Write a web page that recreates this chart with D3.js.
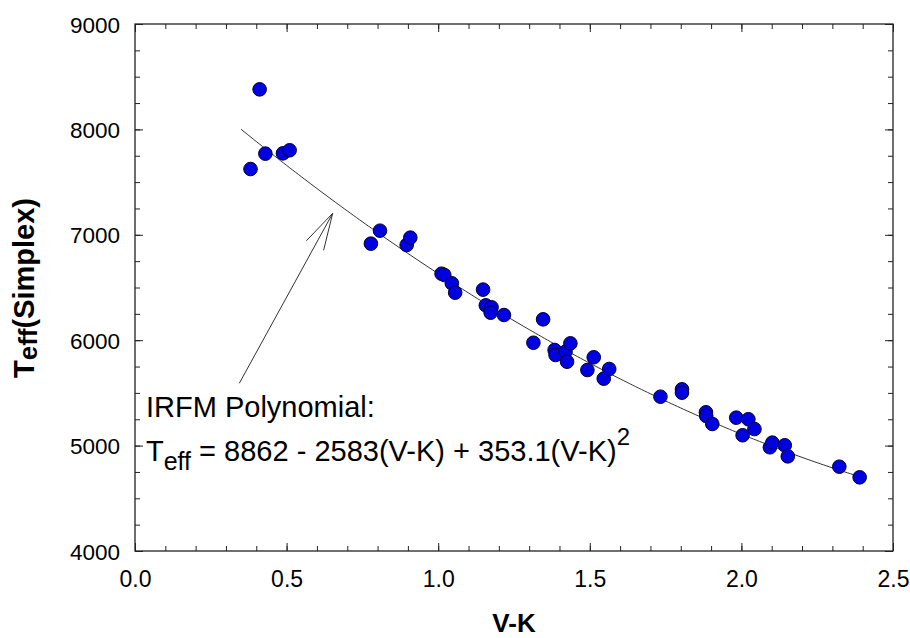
<!DOCTYPE html>
<html>
<head>
<meta charset="utf-8">
<script src="https://cdn.jsdelivr.net/npm/d3@7/dist/d3.min.js"></script>
<style>
  html, body { margin: 0; padding: 0; background: #fff; }
  svg { display: block; }
  text { font-family: Arial, "Liberation Sans", sans-serif; }
</style>
</head>
<body>
<svg id="chart" width="910" height="638"></svg>
<script>
// ---- data ----
const vk = [0.381, 0.411, 0.430, 0.488, 0.510, 0.778, 0.808, 0.896, 0.908, 1.011,
            1.020, 1.045, 1.056, 1.148, 1.157, 1.176, 1.173, 1.217, 1.314, 1.346,
            1.384, 1.387, 1.420, 1.425, 1.436, 1.492, 1.513, 1.546, 1.564, 1.733,
            1.804, 1.804, 1.883, 1.884, 1.904, 1.983, 2.004, 2.023, 2.043, 2.094,
            2.102, 2.143, 2.153, 2.323, 2.390];
const teff = [7624, 8380, 7770, 7773, 7802, 6916, 7039, 6903, 6973, 6631,
              6619, 6540, 6451, 6480, 6331, 6312, 6261, 6239, 5976, 6198,
              5907, 5860, 5891, 5796, 5970, 5717, 5838, 5635, 5727, 5464,
              5534, 5502, 5316, 5281, 5205, 5265, 5098, 5250, 5157, 4984,
              5028, 5003, 4898, 4800, 4699];
const fitCoeffs = [8862, -2583, 353.1];     // IRFM polynomial shown on chart
const fitRange = [0.35, 2.40];
const xTicks = [0.0, 0.5, 1.0, 1.5, 2.0, 2.5];
const yTicks = [4000, 5000, 6000, 7000, 8000, 9000];
const arrowFrom = [0.344, 5591];
const arrowTo = [0.652, 7204];

// ---- layout ----
const L = 135, R = 893, T = 24, B = 551;
const svg = d3.select("#chart");
const x = d3.scaleLinear().domain([0, 2.5]).range([L, R]);
const y = d3.scaleLinear().domain([4000, 9000]).range([B, T]);
const axisColor = "#222";

// minor ticks
const xMinor = d3.range(0, 2.5001, 0.1);
const yMinor = d3.range(4000, 9001, 250);

function styleAxis(g) {
  g.select(".domain").remove();
  g.selectAll("line").attr("stroke", axisColor).attr("stroke-width", 1);
}

// frame
svg.append("rect").attr("x", L).attr("y", T).attr("width", R - L).attr("height", B - T)
  .attr("fill", "none").attr("stroke", axisColor).attr("stroke-width", 1.3);

// bottom axis minor + major
svg.append("g").attr("transform", `translate(0,${B})`)
  .call(d3.axisBottom(x).tickValues(xMinor).tickSize(-5).tickFormat(""))
  .call(styleAxis);
svg.append("g").attr("transform", `translate(0,${B})`)
  .call(d3.axisBottom(x).tickValues(xTicks).tickSize(-8).tickPadding(36).tickFormat(d3.format(".1f")))
  .call(styleAxis)
  .call(g => g.selectAll("text").attr("font-size", 23).attr("fill", "#000").attr("dy", "0"));
// top axis
svg.append("g").attr("transform", `translate(0,${T})`)
  .call(d3.axisTop(x).tickValues(xMinor).tickSize(-5).tickFormat(""))
  .call(styleAxis);
svg.append("g").attr("transform", `translate(0,${T})`)
  .call(d3.axisTop(x).tickValues(xTicks).tickSize(-8).tickFormat(""))
  .call(styleAxis);
// left axis
svg.append("g").attr("transform", `translate(${L},0)`)
  .call(d3.axisLeft(y).tickValues(yMinor).tickSize(-5).tickFormat(""))
  .call(styleAxis);
svg.append("g").attr("transform", `translate(${L},0)`)
  .call(d3.axisLeft(y).tickValues(yTicks).tickSize(-8).tickPadding(15).tickFormat(d3.format("d")))
  .call(styleAxis)
  .call(g => g.selectAll("text").attr("font-size", 22.5).attr("fill", "#000").attr("dy", "0.36em"));
// right axis
svg.append("g").attr("transform", `translate(${R},0)`)
  .call(d3.axisRight(y).tickValues(yMinor).tickSize(-5).tickFormat(""))
  .call(styleAxis);
svg.append("g").attr("transform", `translate(${R},0)`)
  .call(d3.axisRight(y).tickValues(yTicks).tickSize(-8).tickFormat(""))
  .call(styleAxis);

// fit line
const fitX = d3.range(fitRange[0], fitRange[1] + 1e-9, 0.01);
const poly = v => fitCoeffs[0] + fitCoeffs[1] * v + fitCoeffs[2] * v * v;
svg.append("path")
  .datum(fitX)
  .attr("fill", "none").attr("stroke", "#333").attr("stroke-width", 1)
  .attr("d", d3.line().x(d => x(d)).y(d => y(poly(d))));

// points
svg.append("g").selectAll("circle")
  .data(vk.map((v, i) => [v, teff[i]]))
  .join("circle")
  .attr("cx", d => x(d[0])).attr("cy", d => y(d[1])).attr("r", 6.8)
  .attr("fill", "#0000e0").attr("stroke", "#000030").attr("stroke-width", 1);

// arrow
const ax0 = x(arrowFrom[0]), ay0 = y(arrowFrom[1]);
const ax1 = x(arrowTo[0]), ay1 = y(arrowTo[1]);
svg.append("line").attr("x1", ax0).attr("y1", ay0).attr("x2", ax1).attr("y2", ay1)
  .attr("stroke", "#333").attr("stroke-width", 1);
const ang = Math.atan2(ay0 - ay1, ax0 - ax1);
[-1, 1].forEach(s => {
  const a = ang + s * 15 * Math.PI / 180;
  svg.append("line").attr("x1", ax1).attr("y1", ay1)
    .attr("x2", ax1 + 38 * Math.cos(a)).attr("y2", ay1 + 38 * Math.sin(a))
    .attr("stroke", "#333").attr("stroke-width", 1);
});

// annotation text
svg.append("text").attr("x", 146).attr("y", 417).attr("font-size", 29).attr("fill", "#000")
  .text("IRFM Polynomial:");
const eq = svg.append("text").attr("x", 146).attr("y", 461).attr("font-size", 29).attr("fill", "#000");
eq.append("tspan").text("T");
eq.append("tspan").attr("font-size", 25).attr("dy", 9).text("eff");
eq.append("tspan").attr("dy", -9).text(" = 8862 - 2583(V-K) + 353.1(V-K)");
eq.append("tspan").attr("font-size", 24).attr("dy", -16).text("2");

// axis titles
svg.append("text").attr("x", 514).attr("y", 632).attr("text-anchor", "middle")
  .attr("font-size", 26).attr("font-weight", "bold").attr("fill", "#000").text("V-K");
const yt = svg.append("text").attr("transform", "translate(34,288) rotate(-90)")
  .attr("text-anchor", "middle").attr("font-size", 29).attr("font-weight", "bold").attr("fill", "#000");
yt.append("tspan").text("T");
yt.append("tspan").attr("font-size", 26).attr("dy", 3).text("eff");
yt.append("tspan").attr("dy", -3).text("(Simplex)");
</script>
</body>
</html>
